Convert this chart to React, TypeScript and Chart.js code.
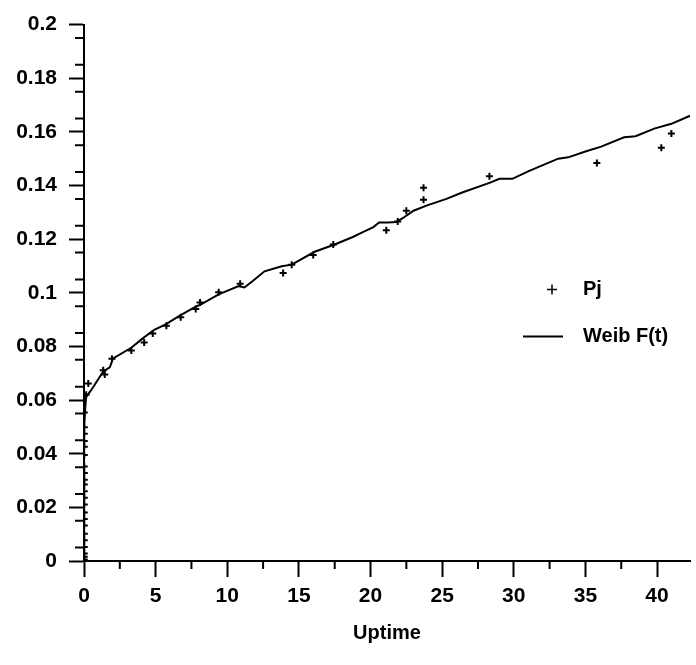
import React, { useEffect, useRef } from 'react';
import { Chart, registerables } from 'chart.js';

Chart.register(...registerables);

// ---- data ----
const pjTimes = [
  0.02, 0.02, 0.02, 0.02, 0.02, 0.02, 0.02, 0.02, 0.02, 0.02, 0.02,
  0.02, 0.02, 0.02, 0.02, 0.02, 0.02, 0.02, 0.02, 0.02, 0.02, 0.02,
  0.15, 0.3, 1.34, 1.45, 1.95, 3.3, 4.2, 4.8, 5.75, 6.75, 7.8, 8.1,
  9.4, 10.9, 13.9, 14.5, 16.0, 17.4, 21.1, 21.9, 22.5, 23.7, 23.7,
  28.3, 35.8, 40.3, 41.0,
];
const pjValues = [
  0.0006, 0.0016, 0.0028, 0.0052, 0.0077, 0.0102, 0.0132, 0.0157, 0.0181, 0.0211, 0.0236,
  0.026, 0.0285, 0.0303, 0.0328, 0.0352, 0.0395, 0.0426, 0.0447, 0.0474, 0.0499, 0.0554,
  0.062, 0.0662, 0.0711, 0.0695, 0.0754, 0.0785, 0.0815, 0.0848, 0.0877, 0.0909, 0.094, 0.0964,
  0.1002, 0.1034, 0.1074, 0.1105, 0.1141, 0.118, 0.1233, 0.1266, 0.1306, 0.1347, 0.1392,
  0.1435, 0.1484, 0.1541, 0.1594,
];

const weibTimes = [
  0.01, 0.1, 0.15, 0.46, 0.76, 1.34, 1.8, 2.03, 3.3, 4.1, 4.9, 5.7, 6.6, 7.8, 8.2,
  9.4, 10.8, 11.2, 11.8, 12.6, 13.8, 14.5, 16.1, 17.5, 18.8, 19.5, 20.2, 20.6, 21.2,
  21.8, 22.3, 23.0, 23.9, 25.3, 26.4, 28.3, 29.0, 29.9, 31.0, 33.1, 33.8, 35.0, 36.1,
  37.7, 38.5, 39.8, 41.0, 42.3, 43.0,
];
const weibValues = [
  0.05, 0.058, 0.0612, 0.0634, 0.0658, 0.0707, 0.0722, 0.0755, 0.0795, 0.083, 0.0862, 0.0882, 0.0912, 0.0948, 0.0958,
  0.0994, 0.1025, 0.102, 0.1045, 0.108, 0.1099, 0.1105, 0.1153, 0.118, 0.1209, 0.1227, 0.1245, 0.1262, 0.1262,
  0.1264, 0.128, 0.1306, 0.1325, 0.135, 0.1374, 0.141, 0.1425, 0.1425, 0.1453, 0.15, 0.1505, 0.1527, 0.1545,
  0.158, 0.1584, 0.1612, 0.163, 0.166, 0.1675,
];

const xMinorTicks = [2.5, 7.5, 12.5, 17.5, 22.5, 27.5, 32.5, 37.5, 42.5];
const yMinorTicks = [
  0.005, 0.015, 0.025, 0.035, 0.045, 0.055, 0.065, 0.075, 0.085, 0.095,
  0.105, 0.115, 0.125, 0.135, 0.145, 0.155, 0.165, 0.175, 0.185, 0.195,
];

const FONT = '"Liberation Sans", Arial, Helvetica, sans-serif';

const extrasPlugin = {
  id: 'extras',
  afterDraw(chart: any) {
    const { ctx, chartArea } = chart;
    const x = chart.scales.x;
    const y = chart.scales.y;
    ctx.save();
    ctx.strokeStyle = '#000';
    ctx.lineWidth = 2;
    ctx.beginPath();
    for (const v of xMinorTicks) {
      const px = x.getPixelForValue(v);
      if (px > chartArea.right) continue;
      ctx.moveTo(px, x.top);
      ctx.lineTo(px, x.top + 8);
    }
    for (const v of yMinorTicks) {
      const py = y.getPixelForValue(v);
      ctx.moveTo(y.right - 9, py);
      ctx.lineTo(y.right, py);
    }
    ctx.stroke();

    // legend
    const ds = chart.data.datasets;
    const lx = chartArea.left + 468;
    const ly1 = chartArea.top + 265;
    const ly2 = chartArea.top + 312;
    ctx.lineWidth = 1.5;
    ctx.beginPath();
    ctx.moveTo(lx - 5, ly1);
    ctx.lineTo(lx + 5, ly1);
    ctx.moveTo(lx, ly1 - 5);
    ctx.lineTo(lx, ly1 + 5);
    ctx.stroke();
    ctx.lineWidth = 2;
    ctx.beginPath();
    ctx.moveTo(lx - 29, ly2);
    ctx.lineTo(lx + 11, ly2);
    ctx.stroke();
    ctx.fillStyle = '#000';
    ctx.font = `bold 20px ${FONT}`;
    ctx.textBaseline = 'middle';
    ctx.textAlign = 'left';
    ctx.fillText(ds[0].label, lx + 31, ly1);
    ctx.fillText(ds[1].label, lx + 31, ly2);
    ctx.restore();
  },
};

export default function App() {
  const ref = useRef<HTMLCanvasElement | null>(null);
  useEffect(() => {
    document.body.style.margin = '0';
    const canvas = ref.current;
    if (!canvas) return;
    const chart = new Chart(canvas, {
      type: 'scatter',
      data: {
        datasets: [
          {
            label: 'Pj',
            data: pjTimes.map((t, i) => ({ x: t, y: pjValues[i] })),
            showLine: false,
            pointStyle: 'cross',
            pointRadius: 3.5,
            pointBorderWidth: 2,
            borderColor: '#000',
            backgroundColor: '#000',
          },
          {
            label: 'Weib F(t)',
            data: weibTimes.map((t, i) => ({ x: t, y: weibValues[i] })),
            showLine: true,
            pointRadius: 0,
            borderWidth: 2,
            borderColor: '#000',
            tension: 0,
          },
        ],
      },
      options: {
        animation: false,
        responsive: false,
        devicePixelRatio: 1,
        layout: { padding: { top: 13, right: 0, left: 0, bottom: 0 } },
        plugins: { legend: { display: false }, tooltip: { enabled: false } },
        scales: {
          x: {
            type: 'linear',
            position: 'bottom',
            min: 0,
            max: 42.3,
            afterFit: (s: any) => { s.height = 104; },
            ticks: {
              stepSize: 5,
              includeBounds: false,
              color: '#000',
              padding: 7,
              font: { family: FONT, size: 21, weight: 'bold' },
              maxRotation: 0,
            },
            grid: {
              display: true,
              drawOnChartArea: false,
              drawTicks: true,
              tickLength: 16,
              tickColor: '#000',
              tickWidth: 2,
            },
            border: { display: true, color: '#000', width: 2 },
            title: {
              display: true,
              text: 'Uptime',
              color: '#000',
              font: { family: FONT, size: 20, weight: 'bold' },
              padding: { top: 0, bottom: 20 },
            },
          },
          y: {
            type: 'linear',
            position: 'left',
            min: 0,
            max: 0.2,
            afterFit: (s: any) => { s.width = 84; },
            ticks: {
              stepSize: 0.01,
              includeBounds: false,
              color: '#000',
              padding: 12,
              font: { family: FONT, size: 21, weight: 'bold' },
              callback: (v: any) => {
                const n = Math.round(Number(v) * 1000);
                if (n % 20 !== 0) return '';
                return String(n / 1000);
              },
            },
            grid: {
              display: true,
              drawOnChartArea: false,
              drawTicks: true,
              tickLength: 15,
              tickColor: '#000',
              tickWidth: 2,
            },
            border: { display: true, color: '#000', width: 2 },
          },
        },
      },
      plugins: [extrasPlugin],
    } as any);
    return () => chart.destroy();
  }, []);
  return (
    <div style={{ width: 696, height: 665, background: '#fff' }}>
      <canvas ref={ref} width={696} height={665} style={{ display: 'block' }} />
    </div>
  );
}
